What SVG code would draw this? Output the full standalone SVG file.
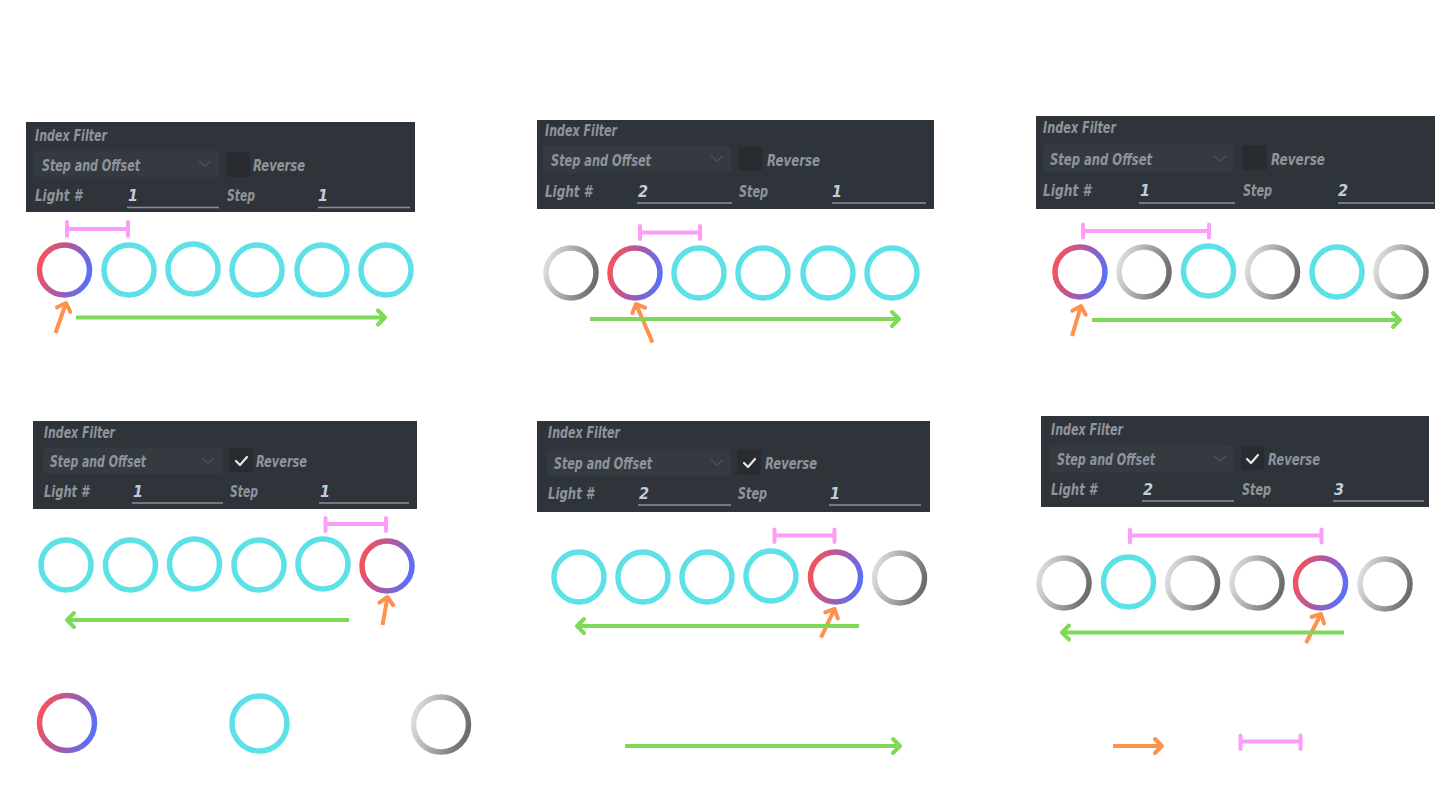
<svg xmlns="http://www.w3.org/2000/svg" width="1440" height="810" viewBox="0 0 1440 810">
<defs>
<style>
.panel{fill:#2f343a}
.dd{fill:#353a41}
.cb{fill:#282c31}
.lbl{font-family:"DejaVu Sans Condensed","Liberation Sans Narrow",sans-serif;font-style:oblique;font-weight:bold;font-size:16px;fill:#8e949b}
.val{font-family:"DejaVu Sans Condensed","Liberation Sans Narrow",sans-serif;font-style:oblique;font-weight:bold;font-size:16px;fill:#c3cbdd}
.inl{stroke:#8a9097;stroke-width:1.3;fill:none}
.chev{stroke:#4b5058;stroke-width:1.5;fill:none}
.chk{stroke:#e3e8ef;stroke-width:2.2;fill:none;stroke-linecap:round;stroke-linejoin:round}
.ring{fill:none;stroke-width:5.5}
.cy{stroke:#5ce1e6}
.hi{stroke:url(#gHi)}
.gr{stroke:url(#gGr)}
.green{stroke:#7ed957;stroke-width:4;fill:none;marker-end:url(#mG)}
.orange{stroke:#ff914d;stroke-width:4;fill:none;marker-end:url(#mO)}
.pink{stroke:#fc9df8;stroke-width:4;fill:none;stroke-linecap:round}
</style>
<linearGradient id="gHi" x1="0" y1="0.3" x2="1" y2="0.6">
<stop offset="0" stop-color="#f8525a"/>
<stop offset="0.5" stop-color="#a95aa3"/>
<stop offset="1" stop-color="#5a6ff9"/>
</linearGradient>
<linearGradient id="gGr" x1="0" y1="0.3" x2="1" y2="0.6">
<stop offset="0" stop-color="#dedede"/>
<stop offset="1" stop-color="#6c6c6c"/>
</linearGradient>
<marker id="mG" markerUnits="userSpaceOnUse" markerWidth="24" markerHeight="24" viewBox="-12 -12 24 24" refX="0" refY="0" orient="auto">
<path d="M-7,-7 L0,0 L-7,7" fill="none" stroke="#7ed957" stroke-width="4" stroke-linecap="round" stroke-linejoin="round"/>
</marker>
<marker id="mO" markerUnits="userSpaceOnUse" markerWidth="24" markerHeight="24" viewBox="-12 -12 24 24" refX="0" refY="0" orient="auto">
<path d="M-7,-7 L0,0 L-7,7" fill="none" stroke="#ff914d" stroke-width="4" stroke-linecap="round" stroke-linejoin="round"/>
</marker>
</defs>
<rect width="1440" height="810" fill="#ffffff"/>

<!-- Panel 1 -->
<g id="panel1">
<rect class="panel" x="26" y="122" width="389" height="90"/>
<text class="lbl" x="35" y="140.5" textLength="72" lengthAdjust="spacingAndGlyphs">Index Filter</text>
<rect class="dd" x="34" y="151" width="185" height="26" rx="4"/>
<text class="lbl" x="42" y="170.5" textLength="98" lengthAdjust="spacingAndGlyphs">Step and Offset</text>
<path class="chev" d="M199,161 l6,5 l6,-5"/>
<rect class="cb" x="226" y="152" width="24" height="25" rx="3"/>
<text class="lbl" x="253" y="170.5" textLength="52" lengthAdjust="spacingAndGlyphs">Reverse</text>
<text class="lbl" x="35" y="200.5" textLength="47" lengthAdjust="spacingAndGlyphs">Light #</text>
<text class="val" x="128" y="200.5">1</text>
<line class="inl" x1="127" y1="207.5" x2="219" y2="207.5"/>
<text class="lbl" x="227" y="200.5" textLength="28" lengthAdjust="spacingAndGlyphs">Step</text>
<text class="val" x="318" y="200.5">1</text>
<line class="inl" x1="318" y1="207.5" x2="410" y2="207.5"/>
</g>

<!-- Panel 2 -->
<g id="panel2">
<rect class="panel" x="537" y="120" width="397" height="89"/>
<text class="lbl" x="545" y="135.5" textLength="72" lengthAdjust="spacingAndGlyphs">Index Filter</text>
<rect class="dd" x="543" y="146" width="188" height="27" rx="4"/>
<text class="lbl" x="551" y="165.5" textLength="100" lengthAdjust="spacingAndGlyphs">Step and Offset</text>
<path class="chev" d="M711,156 l6,5 l6,-5"/>
<rect class="cb" x="738" y="147" width="24" height="24" rx="3"/>
<text class="lbl" x="767" y="165.5" textLength="53" lengthAdjust="spacingAndGlyphs">Reverse</text>
<text class="lbl" x="545" y="196.5" textLength="47" lengthAdjust="spacingAndGlyphs">Light #</text>
<text class="val" x="638" y="196.5">2</text>
<line class="inl" x1="637" y1="203" x2="732" y2="203"/>
<text class="lbl" x="739" y="196.5" textLength="29" lengthAdjust="spacingAndGlyphs">Step</text>
<text class="val" x="832" y="196.5">1</text>
<line class="inl" x1="832" y1="203" x2="926" y2="203"/>
</g>

<!-- Panel 3 -->
<g id="panel3">
<rect class="panel" x="1036" y="116" width="399" height="93"/>
<text class="lbl" x="1043" y="132.5" textLength="73" lengthAdjust="spacingAndGlyphs">Index Filter</text>
<rect class="dd" x="1043" y="144" width="191" height="28" rx="4"/>
<text class="lbl" x="1050" y="164.5" textLength="102" lengthAdjust="spacingAndGlyphs">Step and Offset</text>
<path class="chev" d="M1214,156 l6,5 l6,-5"/>
<rect class="cb" x="1242" y="145" width="25" height="25" rx="3"/>
<text class="lbl" x="1271" y="164.5" textLength="54" lengthAdjust="spacingAndGlyphs">Reverse</text>
<text class="lbl" x="1043" y="196" textLength="48" lengthAdjust="spacingAndGlyphs">Light #</text>
<text class="val" x="1140" y="196">1</text>
<line class="inl" x1="1139" y1="203" x2="1235" y2="203"/>
<text class="lbl" x="1243" y="196" textLength="29" lengthAdjust="spacingAndGlyphs">Step</text>
<text class="val" x="1338" y="196">2</text>
<line class="inl" x1="1338" y1="203" x2="1434" y2="203"/>
</g>

<!-- Panel 4 -->
<g id="panel4">
<rect class="panel" x="33" y="421" width="384" height="88"/>
<text class="lbl" x="44" y="437.5" textLength="71" lengthAdjust="spacingAndGlyphs">Index Filter</text>
<rect class="dd" x="43" y="448" width="180" height="26" rx="4"/>
<text class="lbl" x="50" y="467" textLength="96" lengthAdjust="spacingAndGlyphs">Step and Offset</text>
<path class="chev" d="M202,458 l6,5 l6,-5"/>
<rect class="cb" x="229" y="448" width="24" height="24" rx="3"/>
<path class="chk" d="M236,461 l4,4 l7,-8"/>
<text class="lbl" x="256" y="467" textLength="51" lengthAdjust="spacingAndGlyphs">Reverse</text>
<text class="lbl" x="44" y="497" textLength="45" lengthAdjust="spacingAndGlyphs">Light #</text>
<text class="val" x="133" y="497">1</text>
<line class="inl" x1="132" y1="503" x2="223" y2="503"/>
<text class="lbl" x="230" y="497" textLength="28" lengthAdjust="spacingAndGlyphs">Step</text>
<text class="val" x="320" y="497">1</text>
<line class="inl" x1="319" y1="503" x2="409" y2="503"/>
</g>

<!-- Panel 5 -->
<g id="panel5">
<rect class="panel" x="537" y="421" width="393" height="91"/>
<text class="lbl" x="548" y="438" textLength="72" lengthAdjust="spacingAndGlyphs">Index Filter</text>
<rect class="dd" x="547" y="449" width="184" height="27" rx="4"/>
<text class="lbl" x="554" y="468.5" textLength="98" lengthAdjust="spacingAndGlyphs">Step and Offset</text>
<path class="chev" d="M711,460 l6,5 l6,-5"/>
<rect class="cb" x="737" y="450" width="24" height="25" rx="3"/>
<path class="chk" d="M744,463 l4,4 l7,-8"/>
<text class="lbl" x="765" y="468.5" textLength="52" lengthAdjust="spacingAndGlyphs">Reverse</text>
<text class="lbl" x="548" y="499" textLength="46" lengthAdjust="spacingAndGlyphs">Light #</text>
<text class="val" x="639" y="499">2</text>
<line class="inl" x1="638" y1="505" x2="731" y2="505"/>
<text class="lbl" x="738" y="499" textLength="29" lengthAdjust="spacingAndGlyphs">Step</text>
<text class="val" x="830" y="499">1</text>
<line class="inl" x1="829" y1="505" x2="921" y2="505"/>
</g>

<!-- Panel 6 -->
<g id="panel6">
<rect class="panel" x="1041" y="416" width="388" height="91"/>
<text class="lbl" x="1051" y="434.5" textLength="72" lengthAdjust="spacingAndGlyphs">Index Filter</text>
<rect class="dd" x="1049" y="445" width="185" height="27" rx="4"/>
<text class="lbl" x="1057" y="464.5" textLength="98" lengthAdjust="spacingAndGlyphs">Step and Offset</text>
<path class="chev" d="M1214,456 l6,5 l6,-5"/>
<rect class="cb" x="1241" y="446" width="23" height="24" rx="3"/>
<path class="chk" d="M1247,459 l4,4 l7,-8"/>
<text class="lbl" x="1268" y="464.5" textLength="52" lengthAdjust="spacingAndGlyphs">Reverse</text>
<text class="lbl" x="1051" y="495" textLength="46" lengthAdjust="spacingAndGlyphs">Light #</text>
<text class="val" x="1143" y="495">2</text>
<line class="inl" x1="1142" y1="501" x2="1234" y2="501"/>
<text class="lbl" x="1242" y="495" textLength="29" lengthAdjust="spacingAndGlyphs">Step</text>
<text class="val" x="1334" y="495">3</text>
<line class="inl" x1="1333" y1="501" x2="1424" y2="501"/>
</g>

<!-- Lights row 1 -->
<g id="lights1">
<circle class="ring hi" cx="64.5" cy="270" r="25"/>
<circle class="ring cy" cx="129" cy="270" r="25"/>
<circle class="ring cy" cx="193" cy="269" r="25"/>
<circle class="ring cy" cx="257" cy="270" r="25"/>
<circle class="ring cy" cx="322" cy="270" r="25"/>
<circle class="ring cy" cx="386" cy="270" r="25"/>
</g>
<g id="lights2">
<circle class="ring gr" cx="571" cy="273" r="25"/>
<circle class="ring hi" cx="635" cy="273" r="25"/>
<circle class="ring cy" cx="699" cy="273" r="25"/>
<circle class="ring cy" cx="763" cy="273" r="25"/>
<circle class="ring cy" cx="828" cy="273" r="25"/>
<circle class="ring cy" cx="892" cy="273" r="25"/>
</g>
<g id="lights3">
<circle class="ring hi" cx="1080" cy="272" r="25"/>
<circle class="ring gr" cx="1144" cy="272" r="25"/>
<circle class="ring cy" cx="1208.5" cy="271" r="25"/>
<circle class="ring gr" cx="1272.5" cy="272" r="25"/>
<circle class="ring cy" cx="1337" cy="272" r="25"/>
<circle class="ring gr" cx="1401" cy="272" r="25"/>
</g>
<g id="lights4">
<circle class="ring cy" cx="66" cy="565" r="25"/>
<circle class="ring cy" cx="130.5" cy="565" r="25"/>
<circle class="ring cy" cx="194.5" cy="564" r="25"/>
<circle class="ring cy" cx="259" cy="565" r="25"/>
<circle class="ring cy" cx="323" cy="564" r="25"/>
<circle class="ring hi" cx="387" cy="566" r="25"/>
</g>
<g id="lights5">
<circle class="ring cy" cx="579" cy="577" r="25"/>
<circle class="ring cy" cx="643" cy="577" r="25"/>
<circle class="ring cy" cx="707" cy="577" r="25"/>
<circle class="ring cy" cx="771" cy="576" r="25"/>
<circle class="ring hi" cx="835.5" cy="577" r="25"/>
<circle class="ring gr" cx="899.5" cy="578" r="25"/>
</g>
<g id="lights6">
<circle class="ring gr" cx="1064" cy="583" r="25"/>
<circle class="ring cy" cx="1128.5" cy="582" r="25"/>
<circle class="ring gr" cx="1192.5" cy="583" r="25"/>
<circle class="ring gr" cx="1257" cy="583" r="25"/>
<circle class="ring hi" cx="1320.5" cy="583" r="25"/>
<circle class="ring gr" cx="1385" cy="584" r="25"/>
</g>

<!-- Legend -->
<g id="legend">
<circle class="ring hi" cx="67" cy="723" r="27.5"/>
<circle class="ring cy" cx="259.5" cy="723.5" r="27.5"/>
<circle class="ring gr" cx="441" cy="724.5" r="27.5"/>
</g>

<!-- Connectors -->
<g id="connectors">
<path class="pink" d="M67,229 H128 M67,222 V236 M128,222 V236"/>
<path class="orange" d="M55.5,333 L66,303"/>
<path class="green" d="M76,317.5 H385"/>

<path class="pink" d="M640,232.5 H700 M640,226 V239 M700,226 V239"/>
<path class="orange" d="M652.5,342.5 L636,304"/>
<path class="green" d="M590,319 H899"/>

<path class="pink" d="M1083,231 H1209 M1083,224.5 V237.5 M1209,224.5 V237.5"/>
<path class="orange" d="M1072,336 L1081,306"/>
<path class="green" d="M1092,320 H1400"/>

<path class="pink" d="M325.5,524 H386 M325.5,518 V531 M386,518 V531"/>
<path class="orange" d="M382.5,625 L387.5,597"/>
<path class="green" d="M349,620 H67"/>

<path class="pink" d="M774.5,535.5 H834.5 M774.5,529.5 V542 M834.5,529.5 V542"/>
<path class="orange" d="M821,637.5 L834.5,609"/>
<path class="green" d="M859,626 H577"/>

<path class="pink" d="M1130,535.5 H1321.5 M1130,529.5 V542.5 M1321.5,529.5 V542.5"/>
<path class="orange" d="M1306,643 L1321,614"/>
<path class="green" d="M1344,632.5 H1062"/>

<path class="green" d="M625,746 H900"/>
<path class="orange" d="M1113,746 H1162"/>
<path class="pink" d="M1240.5,741.5 H1300.5 M1240.5,735.5 V749 M1300.5,735.5 V749"/>
</g>
</svg>
